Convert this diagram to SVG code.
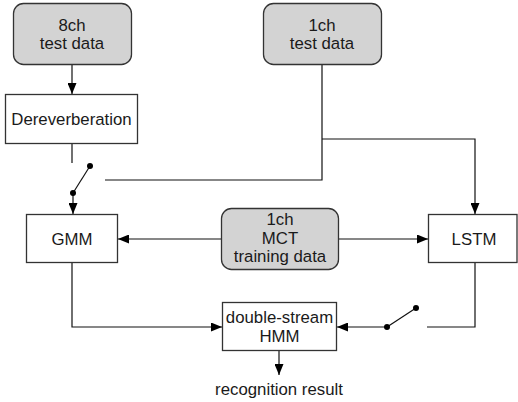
<svg xmlns="http://www.w3.org/2000/svg" width="518" height="402" viewBox="0 0 518 402">
<defs>
<style>
.box{fill:#ffffff;stroke:#333333;stroke-width:1.3}
.data{fill:#d3d3d3;stroke:#333333;stroke-width:1.3}
.t{font-family:"Liberation Sans",Arial,sans-serif;font-size:16.8px;fill:#1a1a1a;text-anchor:middle}
.c{fill:none;stroke:#111111;stroke-width:1.2}
.dot{fill:#000000}
</style>
<marker id="ah" viewBox="0 0 11 9" refX="11" refY="4.5" markerWidth="11" markerHeight="9" markerUnits="userSpaceOnUse" orient="auto">
<path d="M0,0 L11,4.5 L0,9 z" fill="#000000"/>
</marker>
</defs>
<rect width="518" height="402" fill="#ffffff"/>
<g id="connectors">
<path class="c" d="M72,64 V94" marker-end="url(#ah)"/>
<path class="c" d="M72,144 V163"/>
<path class="c" d="M90,166 L73,193"/>
<path class="c" d="M73,193 V214" marker-end="url(#ah)"/>
<path class="c" d="M105,180 H322 V64"/>
<path class="c" d="M322,139 H475 V214" marker-end="url(#ah)"/>
<path class="c" d="M221,239 H118" marker-end="url(#ah)"/>
<path class="c" d="M338,239 H428" marker-end="url(#ah)"/>
<path class="c" d="M72,263 V327 H222" marker-end="url(#ah)"/>
<path class="c" d="M475,263 V327 H427"/>
<path class="c" d="M416,308 L387,327"/>
<path class="c" d="M387,327 H337" marker-end="url(#ah)"/>
<path class="c" d="M279,351 V375" marker-end="url(#ah)"/>
<circle class="dot" cx="90" cy="166" r="3"/>
<circle class="dot" cx="73" cy="193" r="3"/>
<circle class="dot" cx="416" cy="308" r="3"/>
<circle class="dot" cx="387" cy="327" r="3"/>
</g>
<g id="n8ch">
<rect class="data" x="13.5" y="3.5" width="118" height="61" rx="10"/>
<text class="t" x="72" y="31">8ch</text>
<text class="t" x="72" y="49">test data</text>
</g>
<g id="n1ch">
<rect class="data" x="263.5" y="3.5" width="118" height="61" rx="10"/>
<text class="t" x="322" y="31">1ch</text>
<text class="t" x="322" y="49">test data</text>
</g>
<g id="derev">
<rect class="box" x="5.5" y="94.5" width="132" height="49"/>
<text class="t" x="71.5" y="125">Dereverberation</text>
</g>
<g id="gmm">
<rect class="box" x="26.5" y="214.5" width="91" height="48"/>
<text class="t" x="72" y="245">GMM</text>
</g>
<g id="mct">
<rect class="data" x="221.5" y="208.5" width="117" height="61" rx="10"/>
<text class="t" x="280" y="225">1ch</text>
<text class="t" x="280" y="243.5">MCT</text>
<text class="t" x="280" y="262">training data</text>
</g>
<g id="lstm">
<rect class="box" x="428.5" y="214.5" width="88.5" height="48"/>
<text class="t" x="474" y="245">LSTM</text>
</g>
<g id="hmm">
<rect class="box" x="222.5" y="302.5" width="114" height="48"/>
<text class="t" x="279.5" y="323">double-stream</text>
<text class="t" x="279.5" y="342">HMM</text>
</g>
<g id="result">
<text class="t" x="279" y="395">recognition result</text>
</g>
</svg>
